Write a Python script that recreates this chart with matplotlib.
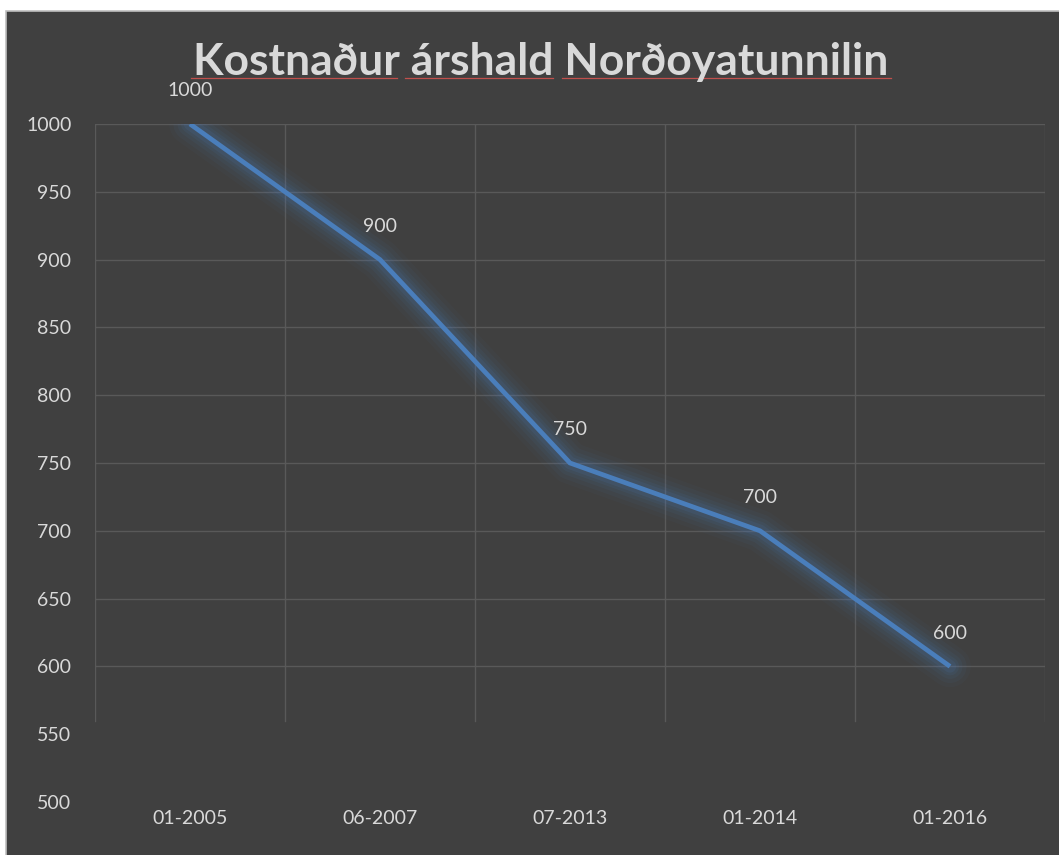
import matplotlib.pyplot as plt
from matplotlib.patches import Rectangle

# data
dates = ["01-2005", "06-2007", "07-2013", "01-2014", "01-2016"]
cost = [1000, 900, 750, 700, 600]
yticks = [500, 550, 600, 650, 700, 750, 800, 850, 900, 950, 1000]

BG = "#404040"
TXT = "#d9d9d9"
LINE = "#4a7ebb"
GRID = "#595959"

plt.rcParams['font.family'] = ['Lato', 'DejaVu Sans']

fig = plt.figure(figsize=(10.59, 8.55), dpi=100, facecolor="white")
# chart area (white margin top/left like the screenshot)
fig.patches.append(Rectangle((6 / 1059, -0.01), 1.01 - 6 / 1059, 1.01 - 11 / 855,
                             transform=fig.transFigure, facecolor=BG,
                             edgecolor="#bfbfbf", linewidth=1.2, zorder=-5))

ax = fig.add_axes([95 / 1059, 53 / 855, 950 / 1059, 678 / 855])
ax.patch.set_alpha(0)

x = range(len(dates))

# soft glow under the line
for w, a in [(30, 0.04), (24, 0.055), (18, 0.07), (13, 0.09), (9, 0.12)]:
    ax.plot(x, cost, color=LINE, linewidth=w, alpha=a,
            solid_capstyle="round", solid_joinstyle="round", zorder=2)
ax.plot(x, cost, color=LINE, linewidth=3.4, solid_capstyle="butt",
        solid_joinstyle="miter", zorder=3)

for xi, v in zip(x, cost):
    ax.annotate(str(v), (xi, v), xytext=(0, 24), textcoords="offset points",
                ha="center", va="center", color=TXT, fontsize=14, zorder=4)

ax.set_xlim(-0.5, len(dates) - 0.5)
ax.set_ylim(500, 1000)
ax.set_yticks(yticks)
ax.set_xticks(list(x))
ax.set_xticklabels(dates)

# gridlines fade out toward the bottom in the original, so stop them early
for t in yticks:
    if t >= 600:
        ax.axhline(t, color=GRID, linewidth=1.0, zorder=1)
for i in range(len(dates) + 1):
    ax.axvline(i - 0.5, ymin=0.12, color=GRID, linewidth=1.0, zorder=1)

for s in ax.spines.values():
    s.set_visible(False)
ax.tick_params(axis="both", which="both", length=0, colors=TXT, labelsize=14)
ax.tick_params(axis="y", pad=17)
ax.tick_params(axis="x", pad=6)

fig.text(541 / 1059, 1 - 62 / 855, "Kostnaður árshald Norðoyatunnilin",
         ha="center", va="center", color=TXT, fontsize=32,
         fontweight="bold")

# red spell-check underline under the title words
for x0, x1 in [(191, 397), (405, 553), (562, 891)]:
    fig.add_artist(plt.Line2D([x0 / 1059, x1 / 1059], [1 - 78 / 855] * 2,
                              color="#c0504d", linewidth=0.9,
                              transform=fig.transFigure))

fig.savefig("out.png", dpi=100, facecolor="white")
